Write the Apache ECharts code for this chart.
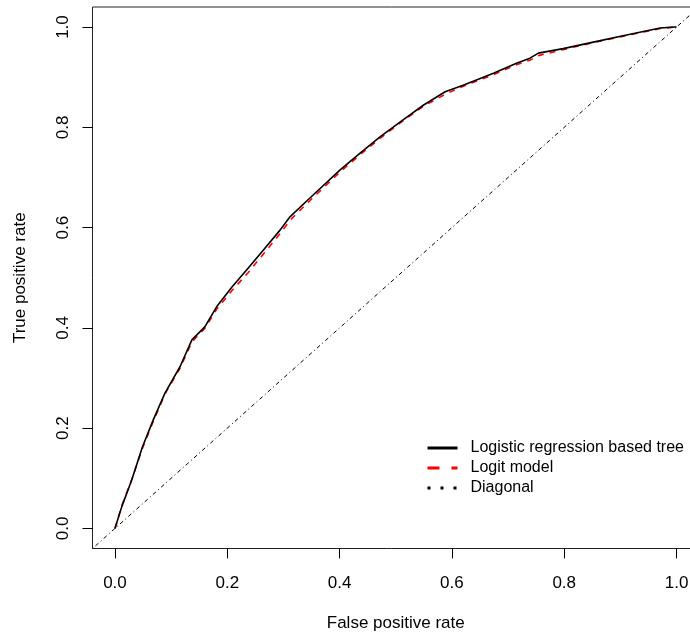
<!DOCTYPE html>
<html lang="en">
<head>
    <meta charset="utf-8">
    <title>ROC curves</title>
    <script src="https://cdn.jsdelivr.net/npm/echarts@6/dist/echarts.min.js"></script>
    <style>
        html, body { margin: 0; padding: 0; background: #fff; }
        #chart { width: 690px; height: 634px; }
    </style>
</head>
<body>
<div id="chart"></div>
<script type="text/javascript">
    // false positive rate (shared sample points)
    var fpr = [0, 0.012, 0.030, 0.049, 0.068, 0.089, 0.116, 0.137, 0.160, 0.181, 0.208,
        0.237, 0.264, 0.294, 0.312, 0.350, 0.401, 0.436, 0.472, 0.513, 0.549, 0.588,
        0.620, 0.674, 0.715, 0.739, 0.754, 0.798, 0.852, 0.911, 0.971, 0.997, 1.0];
    // true positive rate, logistic regression based tree
    var tprTree = [0, 0.043, 0.097, 0.163, 0.216, 0.270, 0.323, 0.376, 0.402, 0.442, 0.481,
        0.519, 0.555, 0.595, 0.622, 0.662, 0.715, 0.748, 0.781, 0.815, 0.844, 0.871,
        0.884, 0.908, 0.928, 0.938, 0.948, 0.957, 0.970, 0.984, 0.998, 1.0, 1.0];
    // true positive rate, logit model
    var tprLogit = [0, 0.045, 0.098, 0.160, 0.213, 0.268, 0.320, 0.372, 0.399, 0.437, 0.474,
        0.510, 0.547, 0.588, 0.615, 0.657, 0.711, 0.745, 0.778, 0.813, 0.842, 0.866,
        0.882, 0.905, 0.925, 0.934, 0.943, 0.955, 0.969, 0.983, 0.997, 1.0, 1.0];
    var diagonal = [-0.04, 1.04];
    var ticks = [0, 0.2, 0.4, 0.6, 0.8, 1.0];

    var names = ['Logistic regression based tree', 'Logit model', 'Diagonal'];
    var font = 'Liberation Sans, Arial, sans-serif';

    function pairs(xs, ys) {
        var out = [];
        for (var i = 0; i < xs.length; i++) {
            out.push([xs[i], ys[i]]);
        }
        return out;
    }

    var chart = echarts.init(document.getElementById('chart'), null, {renderer: 'canvas'});

    var axisCommon = {
        type: 'value',
        min: -0.04,
        max: 1.04,
        nameLocation: 'middle',
        nameTextStyle: {color: '#000', fontSize: 17, fontFamily: font},
        axisLine: {show: false, onZero: false},
        splitLine: {show: false},
        axisTick: {
            show: true,
            length: 10,
            customValues: ticks,
            lineStyle: {color: '#000', width: 1}
        },
        axisLabel: {
            customValues: ticks,
            color: '#000',
            fontSize: 17,
            fontFamily: font,
            formatter: function (v) { return v.toFixed(1); }
        }
    };

    var option = {
        animation: false,
        backgroundColor: '#fff',
        grid: {
            left: 92.5,
            top: 7,
            right: -9,
            bottom: 85.5,
            outerBoundsMode: 'none',
            containLabel: false,
            show: true,
            borderColor: '#222',
            borderWidth: 1,
            backgroundColor: 'transparent'
        },
        xAxis: echarts.util.merge({
            name: 'False positive rate',
            nameGap: 66,
            axisLabel: {margin: 26}
        }, axisCommon),
        yAxis: echarts.util.merge({
            name: 'True positive rate',
            nameGap: 64,
            nameRotate: 90,
            axisLabel: {margin: 21, rotate: 90}
        }, axisCommon),
        legend: {
            left: 426,
            top: 440,
            padding: 0,
            orient: 'vertical',
            itemWidth: 30,
            itemHeight: 16,
            itemGap: 4,
            textStyle: {color: '#000', fontSize: 16, fontFamily: font, padding: [0, 0, 0, 8]},
            data: [
                {name: names[0], itemStyle: {opacity: 0}, lineStyle: {color: '#000', width: 3, type: 'solid'}},
                {name: names[1], itemStyle: {opacity: 0}, lineStyle: {color: '#ff0000', width: 3, type: [12, 12]}},
                {name: names[2], itemStyle: {opacity: 0}, lineStyle: {color: '#000', width: 3, type: [3, 10]}}
            ]
        },
        series: [
            {
                name: names[1],
                type: 'line',
                symbol: 'none',
                z: 2,
                data: pairs(fpr, tprLogit),
                lineStyle: {color: '#ff0000', width: 1.6, type: [6, 6]},
                itemStyle: {color: '#ff0000'}
            },
            {
                name: names[0],
                type: 'line',
                symbol: 'none',
                z: 3,
                data: pairs(fpr, tprTree),
                lineStyle: {color: '#000', width: 1.6, type: 'solid'},
                itemStyle: {color: '#000'}
            },
            {
                name: names[2],
                type: 'line',
                symbol: 'none',
                z: 2,
                clip: true,
                data: pairs(diagonal, diagonal),
                lineStyle: {color: '#000', width: 1, type: [1, 3, 4, 3]},
                itemStyle: {color: '#000'}
            }
        ]
    };
    chart.setOption(option);
</script>
</body>
</html>
